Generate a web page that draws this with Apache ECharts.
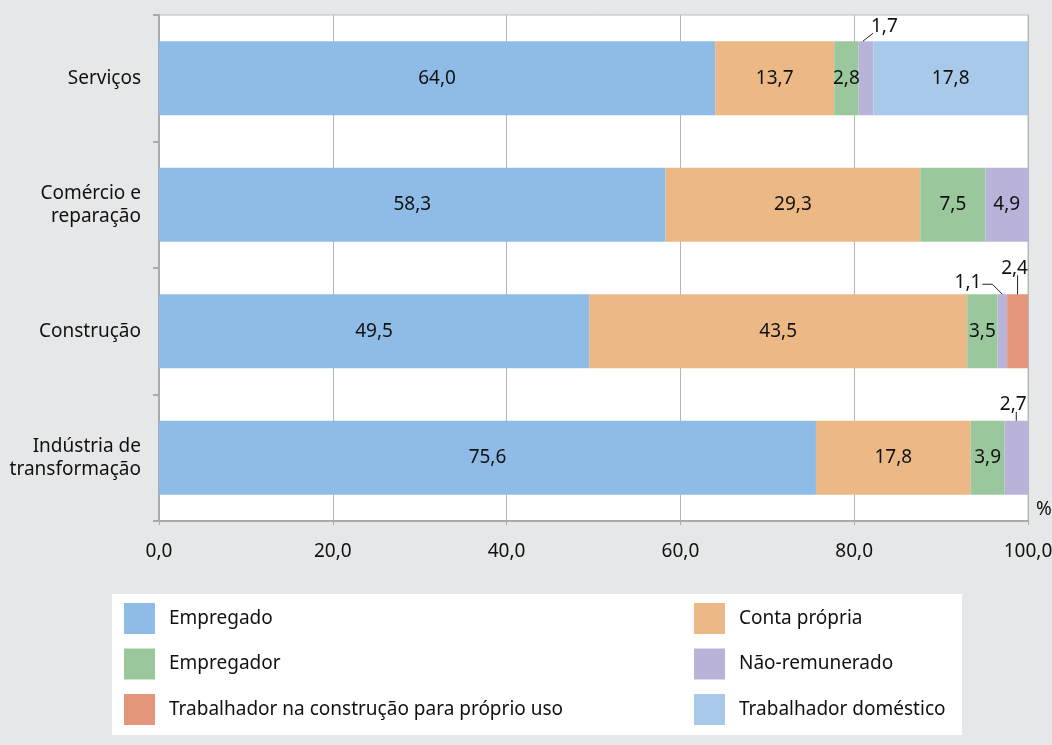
<!DOCTYPE html>
<html>
<head>
<meta charset="utf-8">
<script src="https://cdn.jsdelivr.net/npm/echarts@6/dist/echarts.min.js"></script>
<style>
html,body{margin:0;padding:0;background:#e6e7e8;}
#chart{width:1052px;height:745px;}
</style>
</head>
<body>
<div id="chart"></div>
<script>
// ---- Data ----
const categories = ['Serviços', 'Comércio e\nreparação', 'Construção', 'Indústria de\ntransformação'];
const seriesNames = ['Empregado', 'Conta própria', 'Empregador', 'Não-remunerado', 'Trabalhador na construção para próprio uso', 'Trabalhador doméstico'];
const empregado = [64.0, 58.3, 49.5, 75.6];
const contaPropria = [13.7, 29.3, 43.5, 17.8];
const empregador = [2.8, 7.5, 3.5, 3.9];
const naoRemunerado = [1.7, 4.9, 1.1, 2.7];
const construcaoProprioUso = [0, 0, 2.4, 0];
const domestico = [17.8, 0, 0, 0];
const xTicks = [0, 20, 40, 60, 80, 100];
// values labelled outside the bar: [series index, category index]
const outsideLabels = [[3, 0], [3, 2], [4, 2], [3, 3]];

// ---- Styles ----
const colors = ['#8fbce6', '#ecb986', '#9ac89c', '#b9b3da', '#e3967a', '#a8c9ea'];
const leaderStyles = [
  { kind: 'diag' },
  { kind: 'elbow' },
  { kind: 'vert', len: 19 },
  { kind: 'vert', len: 9 }
];
const FONT = '"Noto Sans", sans-serif';
const FS = 19;
const TXT = '#111111';
const BAR_FRAC = 0.585;

const allValues = [empregado, contaPropria, empregador, naoRemunerado, construcaoProprioUso, domestico];
const fmt = v => Number(v).toFixed(1).replace('.', ',');
const isOutside = (s, c) => outsideLabels.some(o => o[0] === s && o[1] === c);

const barSeries = allValues.map((vals, s) => ({
  name: seriesNames[s],
  type: 'bar',
  stack: 'total',
  barWidth: (BAR_FRAC * 100) + '%',
  itemStyle: { color: colors[s] },
  data: vals,
  label: {
    show: true,
    position: 'inside',
    fontFamily: FONT,
    fontSize: FS,
    color: TXT,
    formatter: p => (!p.value || isOutside(s, p.dataIndex)) ? '' : fmt(p.value)
  },
  emphasis: { disabled: true }
}));

const outsideData = outsideLabels.map(([s, c]) => {
  let start = 0;
  for (let k = 0; k < s; k++) start += allValues[k][c];
  return [start, start + allValues[s][c], c, allValues[s][c]];
});

const annotSeries = {
  type: 'custom',
  name: 'annot',
  z: 10,
  silent: true,
  clip: false,
  encode: { x: [0, 1], y: 2 },
  data: outsideData,
  renderItem: (params, api) => {
    const st = leaderStyles[params.dataIndex];
    const mid = (api.value(0) + api.value(1)) / 2;
    const center = api.coord([mid, api.value(2)]);
    const bh = api.size([0, 1])[1] * BAR_FRAC;
    const bx = center[0], by = center[1] - bh / 2;
    const txt = fmt(api.value(3));
    const lineStyle = { stroke: '#222', lineWidth: 1, fill: null };
    const textStyleBase = { text: txt, fontFamily: FONT, fontSize: FS, fill: TXT, verticalAlign: 'middle' };
    let line, text;
    if (st.kind === 'diag') {
      line = { type: 'polyline', shape: { points: [[bx - 3, by], [bx + 7, by - 8]] }, style: lineStyle };
      text = { type: 'text', style: Object.assign({}, textStyleBase, { x: bx + 5, y: by - 15, align: 'left' }) };
    } else if (st.kind === 'elbow') {
      line = { type: 'polyline', shape: { points: [[bx, by], [bx - 10, by - 10], [bx - 20, by - 10]] }, style: lineStyle };
      text = { type: 'text', style: Object.assign({}, textStyleBase, { x: bx - 21, y: by - 12, align: 'right' }) };
    } else {
      line = { type: 'polyline', shape: { points: [[bx, by], [bx, by - st.len]] }, style: lineStyle };
      text = { type: 'text', style: Object.assign({}, textStyleBase, { x: bx - 3, y: by - st.len - 7, align: 'center' }) };
    }
    return { type: 'group', children: [line, text] };
  }
};

const chart = echarts.init(document.getElementById('chart'));
chart.setOption({
  backgroundColor: '#e6e7e8',
  animation: false,
  textStyle: { fontFamily: FONT },
  grid: {
    left: 159, right: 24, top: 15, bottom: 224,
    outerBoundsMode: 'none', containLabel: false,
    show: true, backgroundColor: '#ffffff', borderColor: '#bdbdbd', borderWidth: 1
  },
  graphic: [{
    type: 'rect', left: 112, top: 594, z: -1,
    shape: { width: 850, height: 141 },
    style: { fill: '#ffffff' }
  }],
  legend: [
    {
      left: 124, top: 603, orient: 'vertical', padding: 0,
      itemWidth: 31, itemHeight: 31, itemGap: 14.5,
      icon: 'rect',
      data: [seriesNames[0], seriesNames[2], seriesNames[4]],
      textStyle: { fontFamily: FONT, fontSize: FS, color: TXT, padding: [0, 0, 0, 9] },
      selectedMode: false
    },
    {
      left: 694, top: 603, orient: 'vertical', padding: 0,
      itemWidth: 31, itemHeight: 31, itemGap: 14.5,
      icon: 'rect',
      data: [seriesNames[1], seriesNames[3], seriesNames[5]],
      textStyle: { fontFamily: FONT, fontSize: FS, color: TXT, padding: [0, 0, 0, 9] },
      selectedMode: false
    }
  ],
  xAxis: {
    type: 'value', min: xTicks[0], max: xTicks[xTicks.length - 1], interval: xTicks[1] - xTicks[0],
    name: '%', nameLocation: 'end', nameGap: 8,
    nameTextStyle: { fontFamily: FONT, fontSize: FS, color: TXT, verticalAlign: 'bottom', padding: [0, 0, 2, 0] },
    axisLine: { show: true, lineStyle: { color: '#aaaaaa', width: 2 } },
    axisTick: { show: true, length: 4, lineStyle: { color: '#aaaaaa' } },
    axisLabel: { fontFamily: FONT, fontSize: FS, color: TXT, margin: 21, formatter: v => fmt(v) },
    splitLine: { show: true, lineStyle: { color: '#b5b5b5', width: 1 } }
  },
  yAxis: {
    type: 'category', data: categories, inverse: true,
    axisLine: { show: true, lineStyle: { color: '#aaaaaa', width: 2 } },
    axisTick: { show: true, length: 6, lineStyle: { color: '#aaaaaa', width: 2 } },
    axisLabel: { fontFamily: FONT, fontSize: FS, color: TXT, margin: 18, lineHeight: 23, align: 'right' },
    splitLine: { show: false }
  },
  series: barSeries.concat([annotSeries])
});
</script>
</body>
</html>
